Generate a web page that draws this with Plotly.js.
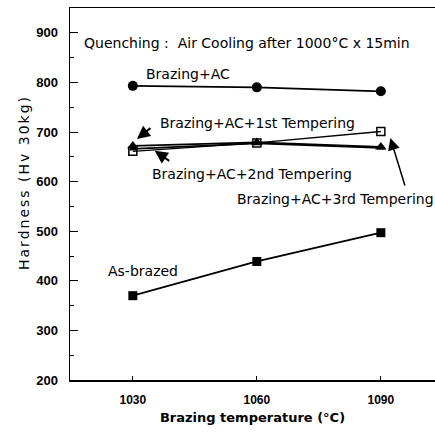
<!DOCTYPE html>
<html><head><meta charset="utf-8">
<script src="https://cdn.plot.ly/plotly-3.0.1.min.js"></script>
<style>
html,body{margin:0;padding:0;background:#fff}
#chart .annotation[data-index="9"] .annotation-text{letter-spacing:2px}
</style>
</head><body><div id="chart" style="width:435px;height:438px"></div>
<script>
var temps = [1030, 1060, 1090];
var brazingAC = [793, 790, 782];
var temper1 = [661, 678, 701];
var temper2 = [672, 679, 670];
var temper3 = [666, 677, 668];
var asBrazed = [370, 439, 497];
var yTicks = [200, 300, 400, 500, 600, 700, 800, 900];

var line = {color: '#000', width: 1.8};
var traces = [
  {x: temps, y: brazingAC, mode: 'lines+markers', line: line, marker: {symbol: 'circle', size: 10, color: '#000'}},
  {x: temps, y: temper1, mode: 'lines+markers', line: {color: '#000', width: 1.3}, marker: {symbol: 'square-open', size: 8, color: '#000', line: {width: 1.5}}},
  {x: temps, y: temper2, mode: 'lines+markers', line: line, marker: {symbol: 'triangle-up', size: 10, color: '#000'}},
  {x: temps, y: temper3, mode: 'lines+markers', line: line, marker: {symbol: 'triangle-up', size: 7, color: '#000'}},
  {x: temps, y: asBrazed, mode: 'lines+markers', line: line, marker: {symbol: 'square', size: 9, color: '#000'}}
];

var fam = 'DejaVu Sans, Arial, sans-serif';
var fnt = {family: fam, size: 14, color: '#000'};
var arr = {text: '', showarrow: true, arrowhead: 2, arrowcolor: '#000'};
var annotations = [
  {x: 1057.6, y: 879, text: 'Quenching :  Air Cooling after 1000°C x 15min', showarrow: false, font: fnt},
  {x: 1043.4, y: 817, text: 'Brazing+AC', showarrow: false, font: fnt},
  {x: 1032.5, y: 420, text: 'As-brazed', showarrow: false, font: fnt},
  {x: 1036.1, y: 718, text: 'Brazing+AC+1st Tempering', showarrow: false, xanchor: 'left', font: fnt},
  {x: 1034.2, y: 615, text: 'Brazing+AC+2nd Tempering', showarrow: false, xanchor: 'left', font: fnt},
  {x: 1054.7, y: 565, text: 'Brazing+AC+3rd Tempering', showarrow: false, xanchor: 'left', font: fnt},
  Object.assign({x: 1031.0, y: 686, ax: 15, ay: -12, arrowwidth: 2, arrowsize: 1.3}, arr),
  Object.assign({x: 1035.3, y: 662, ax: 16, ay: 11, arrowwidth: 2, arrowsize: 1.3}, arr),
  Object.assign({x: 1092.3, y: 688, ax: 15, ay: 49, arrowwidth: 1.5, arrowsize: 1.6}, arr),
  {xref: 'paper', yref: 'paper', x: 0, y: 0.5296, xshift: -46, xanchor: 'center', yanchor: 'middle',
   textangle: -90, text: 'Hardness (Hv 30kg)', showarrow: false, font: {family: fam, size: 14, color: '#000'}}
];

var layout = {
  width: 435, height: 438,
  margin: {l: 70, r: 0, t: 8, b: 58},
  paper_bgcolor: '#fff', plot_bgcolor: '#fff',
  showlegend: false,
  font: fnt,
  xaxis: {
    range: [1014.8, 1103.1], tickvals: temps, ticktext: temps.map(String),
    ticks: 'inside', ticklen: 4, tickcolor: '#000', showgrid: false, zeroline: false,
    showline: true, linecolor: '#000', linewidth: 1.5, mirror: true,
    ticklabelstandoff: 8,
    tickfont: {family: 'Liberation Sans, Arial, sans-serif', size: 12, color: '#000', weight: 'bold'},
    title: {text: 'Brazing temperature (°C)', standoff: 7, font: {family: fam, size: 13, color: '#000', weight: 'bold'}}
  },
  yaxis: {
    range: [200, 950], tickvals: yTicks, ticktext: yTicks.map(String),
    ticks: 'inside', ticklen: 8, tickcolor: '#000', showgrid: false, zeroline: false,
    showline: true, linecolor: '#000', linewidth: 1.5,
    ticklabelstandoff: 8,
    minor: {dtick: 50, ticks: 'inside', ticklen: 4, tickcolor: '#000'},
    tickfont: {family: 'Liberation Sans, Arial, sans-serif', size: 13, color: '#000', weight: 'bold'}
  },
  annotations: annotations
};
Plotly.newPlot('chart', traces, layout, {displayModeBar: false, staticPlot: true});
</script></body></html>
